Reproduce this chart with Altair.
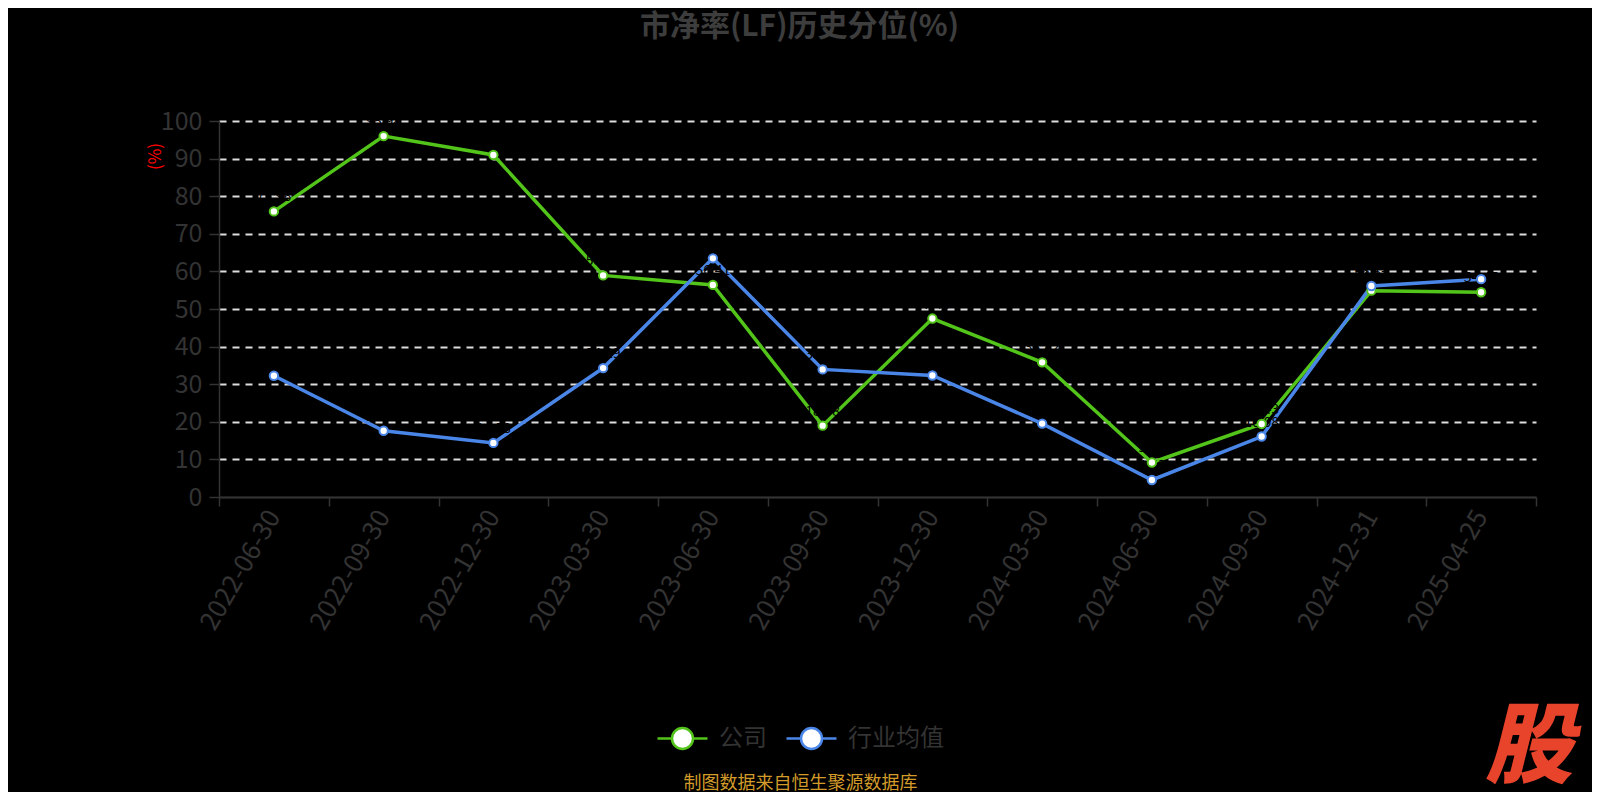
import altair as alt
import pandas as pd

# ---- data ----
dates = ["2022-06-30", "2022-09-30", "2022-12-30", "2023-03-30", "2023-06-30", "2023-09-30",
         "2023-12-30", "2024-03-30", "2024-06-30", "2024-09-30", "2024-12-31", "2025-04-25"]
company = [75.96, 95.98, 90.96, 58.94, 56.41, 18.98, 47.46, 35.82, 9.18, 19.43, 54.87, 54.45]
industry = [32.24, 17.62, 14.38, 34.29, 63.48, 33.94, 32.31, 19.52, 4.53, 16.08, 56.12, 57.93]
series_names = ["公司", "行业均值"]
series_colors = ["#52c41a", "#4a86e8"]
y_ticks = list(range(0, 101, 10))

title_text = "市净率(LF)历史分位(%)"
y_title = "(%)"
footer_text = "制图数据来自恒生聚源数据库"
logo_text = ["股"]

FONT = "Noto Sans CJK SC"

df = pd.DataFrame({
    "date": dates + dates,
    "value": company + industry,
    "series": [series_names[0]] * len(dates) + [series_names[1]] * len(dates),
})

legend_path = ("M-1,0L-0.42,0M0.42,0L1,0"
               "M-0.42,0A0.42,0.42,0,1,1,0.42,0A0.42,0.42,0,1,1,-0.42,0Z")

x_enc = alt.X(
    "date:N",
    sort=dates,
    bandPosition=0.5,
    scale=alt.Scale(type="band", domain=dates, paddingInner=0, paddingOuter=0),
    axis=alt.Axis(
        title=footer_text,
        titleColor="#d39b2a",
        titleFont=FONT,
        titleFontSize=18,
        titleFontWeight="normal",
        titleX=581,
        titleY=295,
        titleAlign="center",
        titleBaseline="bottom",
        labelAngle=300,
        labelAlign="right",
        labelBaseline="middle",
        labelFont=FONT,
        labelFontSize=26,
        labelColor="#333333",
        labelPadding=6,
        tickBand="extent",
        tickSize=9,
        tickColor="#333333",
        tickWidth=1.5,
        domainColor="#333333",
        domainWidth=1.5,
        grid=False,
        zindex=1,
    ),
)

y_enc = alt.Y(
    "value:Q",
    scale=alt.Scale(domain=[0, 100], nice=False, zero=True),
    axis=alt.Axis(
        values=y_ticks,
        title=y_title,
        titleColor="#ff0000",
        titleFont=FONT,
        titleFontSize=17,
        titleFontWeight="normal",
        titleAngle=270,
        titleX=-64,
        titleY=35,
        titleAlign="center",
        titleBaseline="middle",
        labelFont=FONT,
        labelFontSize=25,
        labelColor="#333333",
        labelPadding=7,
        tickSize=10,
        tickColor="#333333",
        tickWidth=1.5,
        domainColor="#333333",
        domainWidth=1.5,
        grid=True,
        gridColor={"condition": {"test": "datum.value === 0", "value": "#333333"},
                   "value": "#dddddd"},
        gridDash={"condition": {"test": "datum.value === 0", "value": [1, 0]},
                  "value": [7, 6]},
        gridWidth=1.8,
    ),
)

stroke_enc = alt.Stroke(
    "series:N",
    scale=alt.Scale(domain=series_names, range=series_colors),
    legend=alt.Legend(
        orient="none",
        legendX=437,
        legendY=591,
        direction="horizontal",
        title=None,
        symbolType=legend_path,
        symbolSize=2500,
        symbolStrokeWidth=2.5,
        symbolFillColor="white",
        labelFont=FONT,
        labelFontSize=24,
        labelColor="#333333",
        labelOffset=10,
        columnPadding=14,
        padding=0,
    ),
)

base = alt.Chart(df).encode(x=x_enc, y=y_enc)

lines = base.mark_line(strokeWidth=3.5).encode(stroke=stroke_enc)
points = base.mark_point(shape="circle", filled=True, fill="white", fillOpacity=1,
                         size=70, strokeWidth=2, opacity=1).encode(stroke=stroke_enc)
labels = base.mark_text(color="black", dy=-14, fontSize=14, font=FONT).encode(
    text=alt.Text("value:Q", format=".2f"), detail="series:N")

logo = alt.Chart(pd.DataFrame({"t": logo_text})).mark_text(
    font=FONT, fontSize=88, fontWeight=900, fontStyle="italic",
    color="#e8432b", align="center", baseline="middle",
).encode(x=alt.value(1310), y=alt.value(629), text="t:N")

chart = alt.layer(lines, labels, points, logo).properties(
    width=1317,
    height=376,
    autosize=alt.AutoSizeParams(type="none"),
    padding={"left": 211, "top": 113, "right": 56, "bottom": 295},
    background="black",
    title=alt.TitleParams(
        text=title_text,
        anchor="middle",
        frame="group",
        dx=-78,
        offset=67,
        font=FONT,
        fontSize=30,
        fontWeight="bold",
        color="#3d3d3d",
    ),
).configure_view(stroke=None)

chart.save("out.html", embed_options={"renderer": "svg", "actions": False})
